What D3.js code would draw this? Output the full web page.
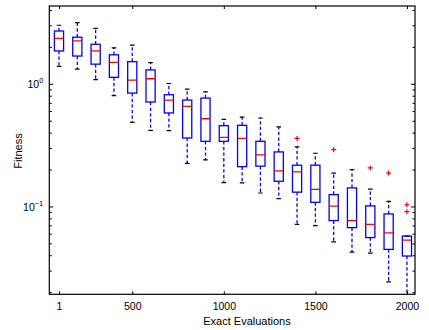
<!DOCTYPE html>
<html>
<head>
<meta charset="utf-8">
<script src="https://cdn.jsdelivr.net/npm/d3@7"></script>
<style>
  body { margin: 0; background: #fff; }
  svg text { font-family: "Liberation Sans", Arial, Helvetica, sans-serif; }
</style>
</head>
<body>
<svg id="viz"></svg>
<script>
//box data, one entry per group of exact evaluations
var groups    = [1,2,3,4,5,6,7,8,9,10,11,12,13,14,15,16,17,18,19,20]
var upperWhisk = [3.03,3.18,2.86,1.98,2.09,1.50,1.015,0.914,0.869,0.517,0.541,0.531,0.449,0.309,0.274,0.189,0.202,0.140,0.111,0.0579]
var q3Vals     = [2.72,2.42,2.12,1.74,1.53,1.31,0.822,0.744,0.772,0.460,0.463,0.343,0.281,0.219,0.219,0.126,0.143,0.102,0.0877,0.0579]
var medians    = [2.37,2.26,1.87,1.51,1.08,1.11,0.744,0.660,0.524,0.369,0.362,0.266,0.197,0.193,0.139,0.1016,0.0774,0.0721,0.0615,0.0536]
var q1Vals     = [1.87,1.70,1.46,1.14,0.848,0.717,0.584,0.365,0.343,0.343,0.213,0.215,0.162,0.132,0.109,0.0774,0.0678,0.0563,0.0451,0.0398]
var lowerWhisk = [1.40,1.33,1.09,0.81,0.489,0.421,0.419,0.227,0.242,0.158,0.157,0.130,0.117,0.0721,0.0703,0.0519,0.0429,0.0421,0.0245,0.015]
//outliers as [group, value]
var outliers = [[14,0.362],[16,0.293],[18,0.208],[19,0.189],[20,0.104],[20,0.0916]]

//x tick labels sit on groups 1, 5, 10, 15, 20
var xTickPos = [1,5,10,15,20]
var xTickLabels = ["1","500","1000","1500","2000"]

var width = 429
var height = 330
//plot area edges (note: "top" is reserved on window, so use pTop etc.)
var pLeft = 49.3, pRight = 415, pTop = 6, pBottom = 294.3

var svg = d3.select("#viz")
  .attr("width", width)
  .attr("height", height)

var x = d3.scaleLinear().domain([0.47, 20.44]).range([pLeft, pRight])
var y = d3.scaleLog().domain([0.0194, 4.35]).range([pBottom, pTop])

svg.append("defs").append("clipPath").attr("id", "plotclip")
  .append("rect")
  .attr("x", pLeft).attr("y", pTop)
  .attr("width", pRight - pLeft).attr("height", pBottom - pTop)

var boxW = 0.5 * (x(2) - x(1))
var capW = boxW / 2

var data = groups.map(function(g, i) {
  return {g: g, hi: upperWhisk[i], q3: q3Vals[i], med: medians[i], q1: q1Vals[i], lo: lowerWhisk[i]}
})

var plot = svg.append("g").attr("clip-path", "url(#plotclip)")

var box = plot.selectAll("g.box")
  .data(data)
  .enter()
  .append("g")
  .attr("class", "box")

//dashed whiskers
box.append("line")
  .attr("x1", d => x(d.g)).attr("x2", d => x(d.g))
  .attr("y1", d => y(d.q3)).attr("y2", d => y(d.hi))
  .attr("stroke", "#0000ff").attr("stroke-width", 1.3)
  .attr("stroke-dasharray", "3.3,2.3")
box.append("line")
  .attr("x1", d => x(d.g)).attr("x2", d => x(d.g))
  .attr("y1", d => y(d.q1)).attr("y2", d => y(d.lo))
  .attr("stroke", "#0000ff").attr("stroke-width", 1.3)
  .attr("stroke-dasharray", "3.3,2.3")

//whisker caps
box.append("line")
  .attr("x1", d => x(d.g) - capW / 2).attr("x2", d => x(d.g) + capW / 2)
  .attr("y1", d => y(d.hi)).attr("y2", d => y(d.hi))
  .attr("stroke", "#000").attr("stroke-width", 1.2)
box.append("line")
  .attr("x1", d => x(d.g) - capW / 2).attr("x2", d => x(d.g) + capW / 2)
  .attr("y1", d => y(d.lo)).attr("y2", d => y(d.lo))
  .attr("stroke", "#000").attr("stroke-width", 1.2)

//boxes
box.append("rect")
  .attr("x", d => x(d.g) - boxW / 2)
  .attr("y", d => y(d.q3))
  .attr("width", boxW)
  .attr("height", d => y(d.q1) - y(d.q3))
  .attr("fill", "none")
  .attr("stroke", "#0000ff").attr("stroke-width", 1.3)

//medians
box.append("line")
  .attr("x1", d => x(d.g) - boxW / 2).attr("x2", d => x(d.g) + boxW / 2)
  .attr("y1", d => y(d.med)).attr("y2", d => y(d.med))
  .attr("stroke", "#ff0000").attr("stroke-width", 1.3)

//outliers as red plus signs
plot.selectAll("path.out")
  .data(outliers)
  .enter()
  .append("path")
  .attr("class", "out")
  .attr("d", function(d) {
    var cx = x(d[0]), cy = y(d[1])
    return "M" + (cx - 2.5) + "," + cy + "H" + (cx + 2.5) + "M" + cx + "," + (cy - 2.5) + "V" + (cy + 2.5)
  })
  .attr("stroke", "#ff0000").attr("stroke-width", 1.2)

//axes box
svg.append("rect")
  .attr("x", pLeft).attr("y", pTop)
  .attr("width", pRight - pLeft).attr("height", pBottom - pTop)
  .attr("fill", "none").attr("stroke", "#000").attr("stroke-width", 1.2)

//x axis (bottom and mirrored top), ticks point inward
var xAxis = d3.axisBottom(x)
  .tickValues(xTickPos)
  .tickFormat((d, i) => xTickLabels[i])
  .tickSizeInner(-3).tickSizeOuter(0).tickPadding(8)
var gx = svg.append("g").attr("transform", "translate(0," + pBottom + ")").call(xAxis)
gx.select(".domain").remove()
gx.selectAll("text").attr("font-size", 10.5).attr("fill", "#000")

var gxt = svg.append("g").attr("transform", "translate(0," + pTop + ")")
  .call(d3.axisTop(x).tickValues(xTickPos).tickFormat("").tickSizeInner(-3).tickSizeOuter(0))
gxt.select(".domain").remove()

//y axis: major ticks at decades, minor ticks in between
var majors = [0.1, 1]
var minors = [0.02,0.03,0.04,0.05,0.06,0.07,0.08,0.09,0.2,0.3,0.4,0.5,0.6,0.7,0.8,0.9,2,3,4]

function yTicks(xPos, dir) {
  var g = svg.append("g")
  g.selectAll("line.maj").data(majors).enter().append("line")
    .attr("x1", xPos).attr("x2", xPos + dir * 4)
    .attr("y1", d => y(d)).attr("y2", d => y(d))
    .attr("stroke", "#000").attr("stroke-width", 1)
  g.selectAll("line.min").data(minors).enter().append("line")
    .attr("x1", xPos).attr("x2", xPos + dir * 2.5)
    .attr("y1", d => y(d)).attr("y2", d => y(d))
    .attr("stroke", "#000").attr("stroke-width", 1)
}
yTicks(pLeft, 1)
yTicks(pRight, -1)

//decade labels 10^0, 10^-1
var yl = svg.append("g").selectAll("text")
  .data(majors)
  .enter()
  .append("text")
  .attr("x", pLeft - 6)
  .attr("y", d => y(d) + 4)
  .attr("text-anchor", "end")
  .attr("font-size", 10.5)
yl.append("tspan").text("10")
yl.append("tspan")
  .attr("dy", -5)
  .attr("font-size", 7.5)
  .text(d => Math.round(Math.log10(d)) == 0 ? "0" : "\u22121")

//axis titles
svg.append("text")
  .attr("x", 247).attr("y", 325)
  .attr("text-anchor", "middle")
  .attr("font-size", 11)
  .text("Exact Evaluations")

svg.append("text")
  .attr("transform", "translate(22,151) rotate(-90)")
  .attr("text-anchor", "middle")
  .attr("font-size", 11)
  .text("Fitness")
</script>
</body>
</html>
